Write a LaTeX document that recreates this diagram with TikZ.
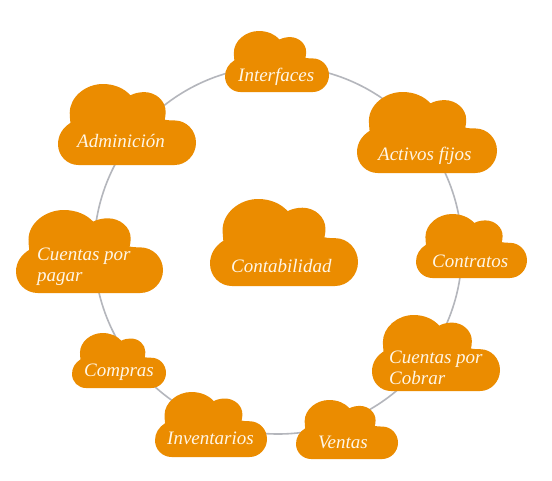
\documentclass[tikz,border=0pt]{standalone}
\usepackage{fontspec}
\setmainfont{Liberation Serif}
\definecolor{cloudorange}{HTML}{EB8C00}
\definecolor{ringgray}{HTML}{B4B6BC}
\definecolor{cloudtext}{HTML}{FFF6E6}
\newcommand{\cloudat}[4]{%
  \begin{scope}[shift={(#1pt,-#4pt)},x={(#3pt-#1pt,0pt)},y={(0pt,#4pt-#2pt)}]
    \fill[cloudorange] (0.148,0) .. controls (0.066,0) and (0,0.115) .. (0,0.256)
      .. controls (0,0.37) and (0.035,0.46) .. (0.09,0.52)
      .. controls (0.088,0.56) and (0.085,0.60) .. (0.085,0.643)
      .. controls (0.085,0.84) and (0.2,1) .. (0.325,1)
      .. controls (0.41,1) and (0.48,0.945) .. (0.525,0.86)
      .. controls (0.55,0.885) and (0.59,0.9) .. (0.625,0.9)
      .. controls (0.71,0.9) and (0.78,0.79) .. (0.78,0.66)
      .. controls (0.78,0.62) and (0.778,0.59) .. (0.773,0.56)
      .. controls (0.79,0.552) and (0.82,0.55) .. (0.845,0.55)
      .. controls (0.93,0.55) and (1,0.43) .. (1,0.275)
      .. controls (1,0.125) and (0.93,0) .. (0.845,0) -- cycle;
  \end{scope}}
\tikzset{
  cloudlabel/.style={text=cloudtext,font=\fontsize{19}{22}\selectfont\itshape,inner sep=0pt,anchor=base west,align=left},
  ringline/.style={circle,draw=ringgray,line width=1.6pt,inner sep=0pt,minimum size=368pt}
}
\begin{document}
\begin{tikzpicture}[x=1pt,y=1pt]
\useasboundingbox (0,0) rectangle (552,-480);
\fill[white] (0,0) rectangle (552,-480);
\node[ringline] (ring) at (278,-250) {};
\cloudat{225}{31}{329}{92}
\cloudat{357}{92}{497}{173}
\cloudat{416}{214}{527}{278}
\cloudat{372}{315}{500}{391}
\cloudat{296}{400}{398}{459}
\cloudat{155}{392}{267}{457}
\cloudat{72}{333}{166}{388}
\cloudat{16}{210}{163}{293}
\cloudat{58}{84}{196}{165}
\cloudat{210}{199}{358}{286}
\node[cloudlabel] (interfaces) at (238,-81) {Interfaces};
\node[cloudlabel] (activos) at (378,-160) {Activos fijos};
\node[cloudlabel] (contratos) at (432,-267) {Contratos};
\node[cloudlabel] (cobrar1) at (389,-363) {Cuentas por};
\node[cloudlabel] (cobrar2) at (389,-384) {Cobrar};
\node[cloudlabel] (ventas) at (318,-448) {Ventas};
\node[cloudlabel] (inventarios) at (167,-444) {Inventarios};
\node[cloudlabel] (compras) at (84,-376) {Compras};
\node[cloudlabel] (pagar1) at (37,-260) {Cuentas por};
\node[cloudlabel] (pagar2) at (37,-281) {pagar};
\node[cloudlabel] (adminicion) at (77,-147) {Adminición};
\node[cloudlabel] (contabilidad) at (231,-272) {Contabilidad};
\end{tikzpicture}
\end{document}
